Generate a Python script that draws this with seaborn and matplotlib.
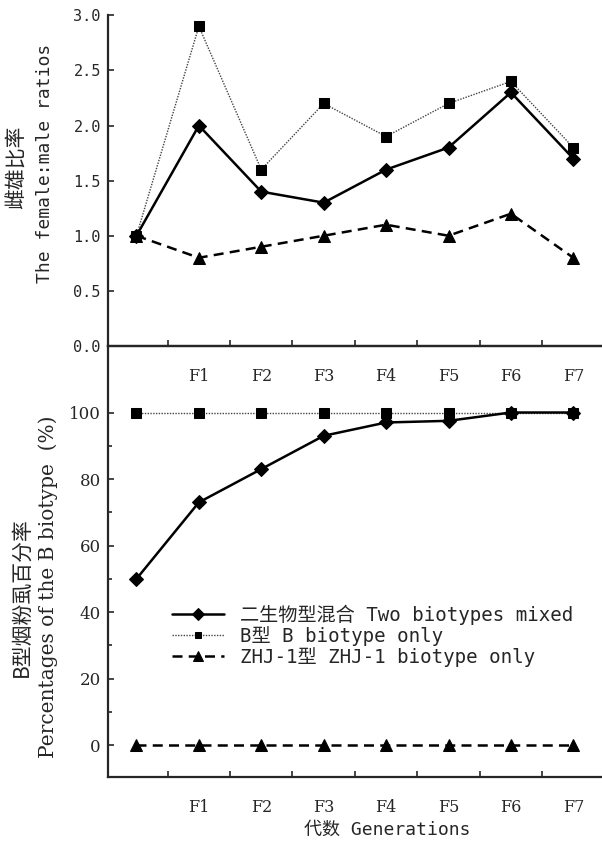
import matplotlib.pyplot as plt
import numpy as np
import pandas as pd
import seaborn as sns
from matplotlib.ticker import MultipleLocator, FixedLocator

# --- data ---
generations = ['', 'F1', 'F2', 'F3', 'F4', 'F5', 'F6', 'F7']
series_names = ['二生物型混合 Two biotypes mixed',
                'B型 B biotype only',
                'ZHJ-1型 ZHJ-1 biotype only']

# female:male ratios
ratio_mixed = [1.0, 2.0, 1.4, 1.3, 1.6, 1.8, 2.3, 1.7]
ratio_b = [1.0, 2.9, 1.6, 2.2, 1.9, 2.2, 2.4, 1.8]
ratio_zhj = [1.0, 0.8, 0.9, 1.0, 1.1, 1.0, 1.2, 0.8]

# percentage of B biotype
pct_mixed = [50, 73, 83, 93, 97, 97.5, 100, 100]
pct_b = [100, 100, 100, 100, 100, 100, 100, 100]
pct_zhj = [0, 0, 0, 0, 0, 0, 0, 0]

x = np.arange(len(generations))

sns.set_style("ticks")
MONO = ['DejaVu Sans Mono', 'Noto Sans CJK SC']
SERIF = ['DejaVu Serif', 'Noto Sans CJK SC']
CJK = ['Noto Sans CJK SC', 'DejaVu Sans']
plt.rcParams['font.family'] = MONO

# line styles per series (B only drawn first so the mixed line sits on top)
styles = {
    series_names[1]: dict(color='#444444', linestyle=(0, (1, 1)), linewidth=1.0,
                          marker='s', markersize=6.5),
    series_names[2]: dict(color='black', linestyle=(0, (4, 2.5)), linewidth=1.8,
                          marker='^', markersize=9),
    series_names[0]: dict(color='black', linestyle='-', linewidth=1.8,
                          marker='D', markersize=7.5),
}
top_data = {series_names[0]: ratio_mixed, series_names[1]: ratio_b, series_names[2]: ratio_zhj}
bot_data = {series_names[0]: pct_mixed, series_names[1]: pct_b, series_names[2]: pct_zhj}

fig = plt.figure(figsize=(6.02, 8.5), dpi=100)
ax1 = fig.add_axes([0.179, 0.593, 0.82, 0.389])
ax2 = fig.add_axes([0.179, 0.086, 0.82, 0.507])
ax2.patch.set_visible(False)

handles = {}
for ax, data in [(ax1, top_data), (ax2, bot_data)]:
    for name in [series_names[1], series_names[2], series_names[0]]:
        sns.lineplot(x=x, y=data[name], ax=ax, label=name,
                     markeredgecolor='black', markerfacecolor='black',
                     **styles[name])
        handles[name] = ax.get_lines()[-1]
    if ax.get_legend() is not None:
        ax.get_legend().remove()

for ax in (ax1, ax2):
    ax.set_xlim(-0.46, 7.45)
    ax.xaxis.set_major_locator(FixedLocator(x[1:]))
    ax.set_xticklabels(generations[1:], family=SERIF, fontsize=11.5)
    ax.xaxis.set_minor_locator(FixedLocator(x[:-1] + 0.5))
    ax.tick_params(axis='x', which='major', length=0, pad=16)
    ax.tick_params(axis='x', which='minor', direction='in', length=4, width=1.2)
    ax.tick_params(axis='y', which='both', direction='in', width=1.2)
    ax.spines['right'].set_visible(False)
    for s in ax.spines.values():
        s.set_linewidth(1.6)
    ax.set_xlabel('')
    ax.set_ylabel('')

# top panel
ax1.spines['top'].set_visible(False)
ax1.set_ylim(0, 3.0)
ax1.set_yticks(np.arange(0, 3.01, 0.5))
ax1.set_yticklabels([f'{v:.1f}' for v in np.arange(0, 3.01, 0.5)], fontsize=11)
ax1.tick_params(axis='y', length=4, pad=5)

# bottom panel
ax2.set_ylim(-9.5, 120)
ax2.set_yticks(np.arange(0, 101, 20))
ax2.set_yticklabels([str(v) for v in range(0, 101, 20)], family=SERIF, fontsize=12)
ax2.yaxis.set_minor_locator(FixedLocator(np.arange(10, 100, 20)))
ax2.tick_params(axis='y', which='major', length=4, pad=5)
ax2.tick_params(axis='y', which='minor', length=3)

ax2.legend([handles[n] for n in series_names], series_names,
           loc='upper left', bbox_to_anchor=(0.13, 0.40), frameon=False,
           prop={'family': MONO, 'size': 13.8}, handlelength=2.7, markerscale=0.75,
           handletextpad=0.85, labelspacing=0.05, borderpad=0, borderaxespad=0)

# axis titles
W, H = 602, 850
def ftext(px, py, s, **kw):
    fig.text(px / W, 1 - py / H, s, ha='center', va='center', **kw)

ftext(17, 167, '雌雄比率', rotation=90, family=CJK, fontsize=15)
ftext(45, 163, 'The female:male ratios', rotation=90, family=MONO, fontsize=13)
ftext(22, 597, 'B型烟粉虱百分率', rotation=90, family=CJK, fontsize=15)
ftext(48, 587, 'Percentages of the B biotype  (%)', rotation=90, family=SERIF, fontsize=14.5)
ftext(387, 830, '代数 Generations', family=MONO, fontsize=13)

fig.savefig('out.png', dpi=100)
